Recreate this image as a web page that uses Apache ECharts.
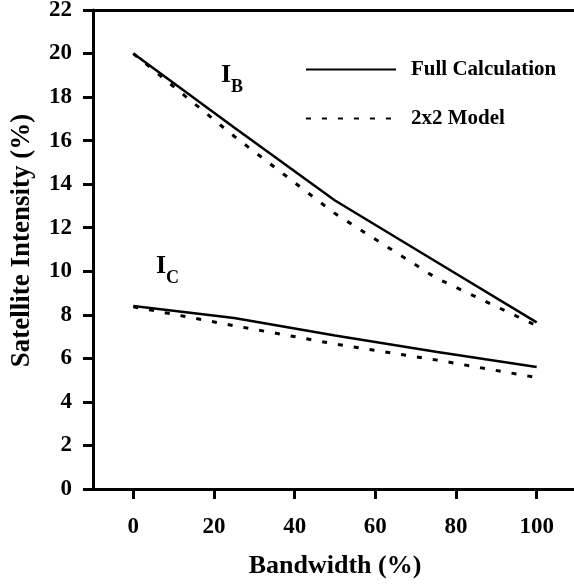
<!DOCTYPE html>
<html>
<head>
<meta charset="utf-8">
<script src="https://cdn.jsdelivr.net/npm/echarts@6/dist/echarts.min.js"></script>
<style>
  html, body { margin: 0; padding: 0; background: #fff; }
  #chart { width: 574px; height: 586px; }
</style>
</head>
<body>
<div id="chart"></div>
<script>
// values
const bandwidth = [0, 25, 50, 75, 100];
const fullB = [20, 16.6, 13.25, 10.45, 7.65];
const modelB = [20, 16.2, 12.65, 9.7, 7.5];
const fullC = [8.4, 7.85, 7.05, 6.3, 5.6];
const modelC = [8.37, 7.5, 6.66, 5.93, 5.12];
const xTicks = [0, 20, 40, 60, 80, 100];

const serif = "Liberation Serif";
const axisStyle = { color: "#000", width: 3 };

function pairs(ys) {
  return bandwidth.map((x, i) => [x, ys[i]]);
}

function lineSeries(name, ys, dashed) {
  return {
    name: name,
    type: "line",
    data: pairs(ys),
    symbol: "none",
    silent: true,
    lineStyle: dashed
      ? { color: "#000", width: 3, type: [5, 11] }
      : { color: "#000", width: 2.5 },
    itemStyle: { color: "#000" },
  };
}

const chart = echarts.init(document.getElementById("chart"));

const subLabel = {
  i: { fontFamily: serif, fontWeight: "bold", fontSize: 26, fill: "#000", verticalAlign: "bottom" },
  s: { fontFamily: serif, fontWeight: "bold", fontSize: 18, fill: "#000", verticalAlign: "bottom", padding: [0, 0, -8, 0] },
};

const option = {
  animation: false,
  backgroundColor: "#fff",
  textStyle: { fontFamily: serif, fontWeight: "bold", color: "#000" },
  grid: { left: 93, top: 10, right: -3, bottom: 97, containLabel: false, outerBoundsMode: "none" },
  legend: {
    orient: "vertical",
    left: 305,
    top: 59,
    padding: 0,
    itemWidth: 90,
    itemHeight: 14,
    itemGap: 28,
    itemStyle: { opacity: 0 },
    data: ["Full Calculation", "2x2 Model"],
    textStyle: {
      fontFamily: serif,
      fontWeight: "bold",
      fontSize: 21,
      color: "#000",
      padding: [0, 0, 0, 10],
    },
  },
  xAxis: [
    {
      type: "value",
      min: -10,
      max: 110,
      position: "bottom",
      name: "Bandwidth (%)",
      nameLocation: "middle",
      nameGap: 64,
      nameTextStyle: { fontFamily: serif, fontWeight: "bold", fontSize: 26, color: "#000" },
      splitLine: { show: false },
      axisLine: { onZero: false, lineStyle: axisStyle },
      axisTick: { show: true, length: 10, lineStyle: axisStyle, customValues: xTicks },
      axisLabel: {
        margin: 27,
        fontFamily: serif,
        fontWeight: "bold",
        fontSize: 23,
        color: "#000",
        customValues: xTicks,
      },
    },
    {
      type: "value",
      min: -10,
      max: 110,
      position: "top",
      splitLine: { show: false },
      axisLine: { show: true, onZero: false, lineStyle: axisStyle },
      axisTick: { show: false },
      axisLabel: { show: false },
    },
  ],
  yAxis: {
    type: "value",
    min: 0,
    max: 22,
    interval: 2,
    name: "Satellite Intensity (%)",
    nameLocation: "middle",
    nameGap: 57,
    nameTextStyle: {
      fontFamily: serif,
      fontWeight: "bold",
      fontSize: 27,
      color: "#000",
      padding: [0, 0, 0, 18],
    },
    splitLine: { show: false },
    axisLine: { show: true, onZero: false, lineStyle: axisStyle },
    axisTick: { show: true, length: 10, lineStyle: axisStyle },
    axisLabel: { margin: 21, fontFamily: serif, fontWeight: "bold", fontSize: 23, color: "#000" },
  },
  series: [
    lineSeries("Full Calculation", fullB, false),
    lineSeries("2x2 Model", modelB, true),
    lineSeries("Full Calculation", fullC, false),
    lineSeries("2x2 Model", modelC, true),
  ],
  graphic: [
    {
      type: "text",
      left: 221,
      top: 62,
      style: { text: "{i|I}{s|B}", rich: subLabel },
    },
    {
      type: "text",
      left: 156,
      top: 253,
      style: { text: "{i|I}{s|C}", rich: subLabel },
    },
  ],
};

chart.setOption(option);
</script>
</body>
</html>
